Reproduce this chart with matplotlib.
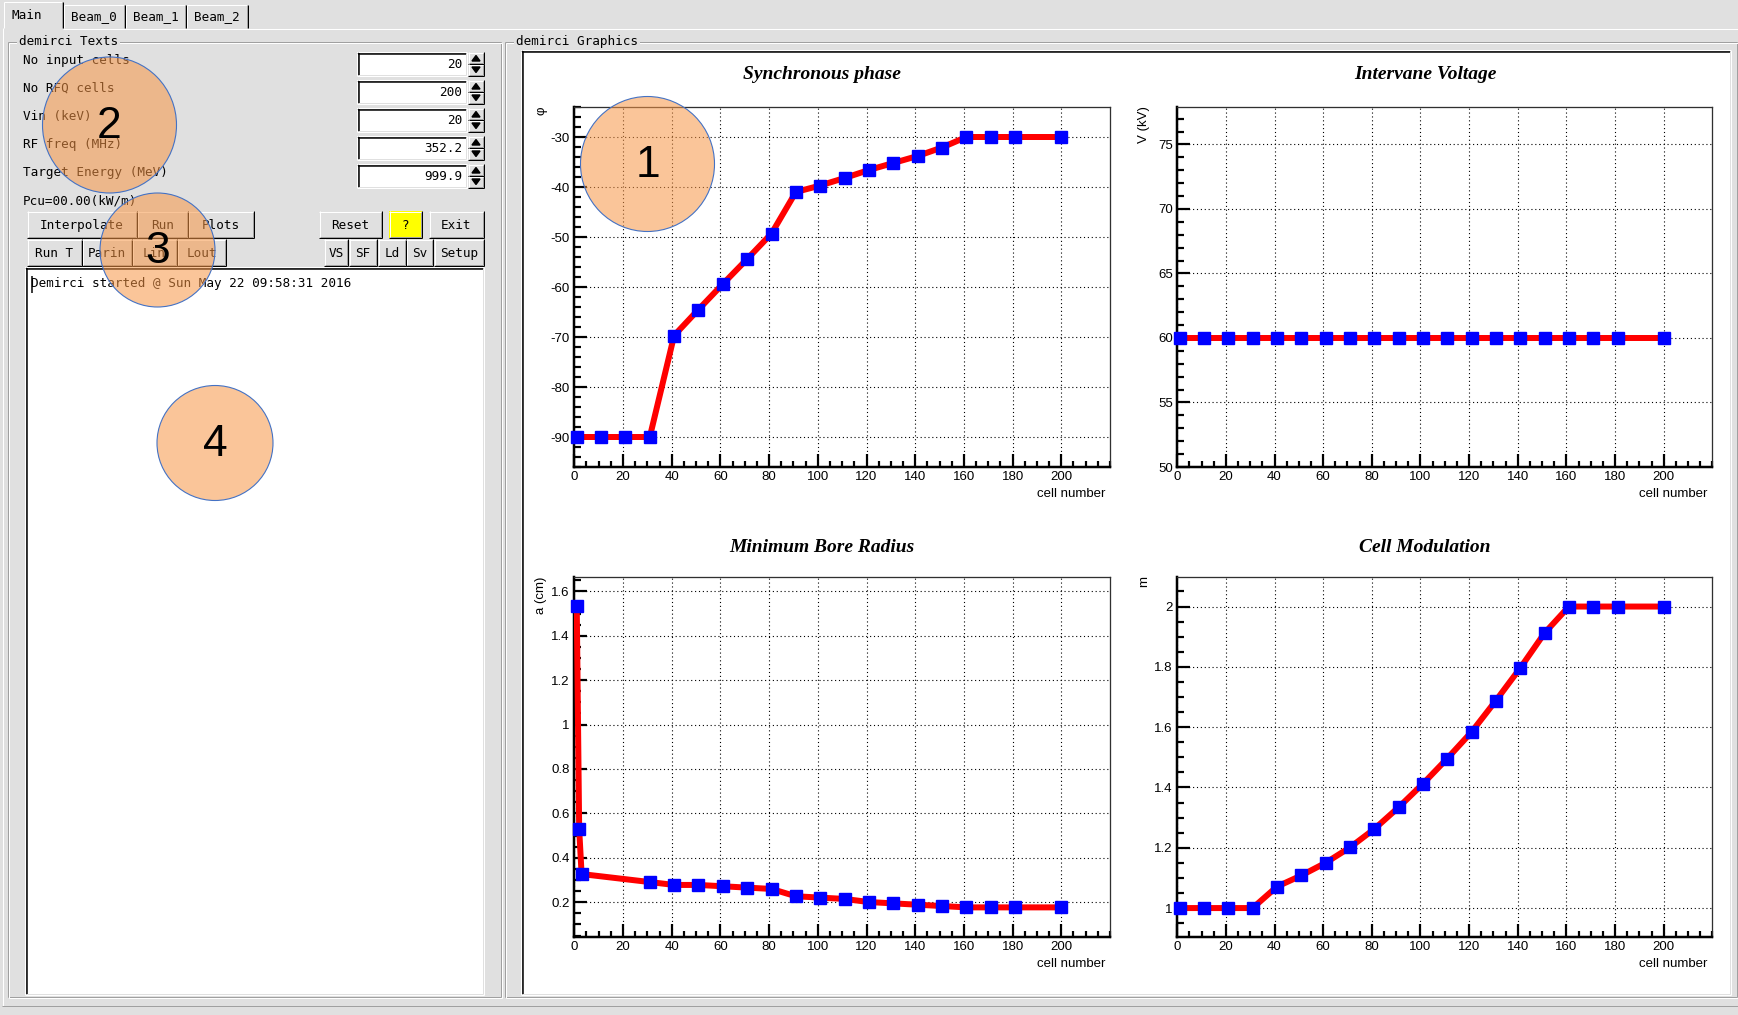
import matplotlib
matplotlib.use('Agg')
import matplotlib.pyplot as plt
from matplotlib.patches import Rectangle, Ellipse, Polygon
from matplotlib.ticker import FixedLocator, MultipleLocator, FormatStrFormatter

plt.rcParams['font.family'] = ['Liberation Sans', 'DejaVu Sans']
plt.rcParams['axes.unicode_minus'] = False

W, H = 1738, 1015

# cells at which the RFQ parameters are sampled
cells = [1, 11, 21, 31, 41, 51, 61, 71, 81, 91, 101, 111, 121, 131, 141, 151, 161, 171, 181, 200]
sync_phase = [-90, -90, -90, -90, -69.7, -64.5, -59.4, -54.4, -49.3, -41.0,
              -39.7, -38.2, -36.6, -35.2, -33.8, -32.1, -30, -30, -30, -30]
voltage = [60, 60, 60, 60, 60, 60, 60, 60, 60, 60,
           60, 60, 60, 60, 60, 60, 60, 60, 60, 60]
bore_cells = [1, 2, 3, 31, 41, 51, 61, 71, 81, 91, 101, 111, 121, 131, 141, 151, 161, 171, 181, 200]
bore_radius = [1.534, 0.530, 0.327, 0.291, 0.278, 0.278, 0.272, 0.266, 0.260, 0.227,
               0.221, 0.215, 0.201, 0.195, 0.189, 0.183, 0.177, 0.177, 0.177, 0.177]
modulation = [1, 1, 1, 1, 1.071, 1.108, 1.150, 1.201, 1.262, 1.334,
              1.412, 1.496, 1.584, 1.688, 1.796, 1.912, 2, 2, 2, 2]

x_ticks = [0, 20, 40, 60, 80, 100, 120, 140, 160, 180, 200]
sync_ticks = [-90, -80, -70, -60, -50, -40, -30]
volt_ticks = [50, 55, 60, 65, 70, 75]
bore_ticks = [0.2, 0.4, 0.6, 0.8, 1.0, 1.2, 1.4, 1.6]
mod_ticks = [1.0, 1.2, 1.4, 1.6, 1.8, 2.0]

# GUI contents
tab_names = ['Main', 'Beam_0', 'Beam_1', 'Beam_2']
input_labels = ['No input cells', 'No RFQ cells', 'Vin (keV)', 'RF freq (MHz)', 'Target Energy (MeV)']
input_values = ['20', '200', '20', '352.2', '999.9']
pcu_text = 'Pcu=00.00(kW/m)'
log_text = 'Demirci started @ Sun May 22 09:58:31 2016'
row1 = [('Interpolate', 27, 137), ('Run', 137, 188), ('Plots', 188, 254),
        ('Reset', 319, 382), ('?', 389, 422), ('Exit', 429, 484)]
row2 = [('Run T', 27, 82), ('Parin', 82, 132), ('Lin', 132, 177), ('Lout', 177, 226),
        ('VS', 324, 348), ('SF', 349, 377), ('Ld', 378, 406), ('Sv', 406, 433), ('Setup', 434, 484)]

BG = '#e0e0e0'
GRAY = '#a0a0a0'
PX = 72 / 100.0
MONO = 'DejaVu Sans Mono'
GUI_FS = 9.1

fig = plt.figure(figsize=(W / 100, H / 100), dpi=100, facecolor=BG)
bg = fig.add_axes([0, 0, 1, 1], zorder=0)
bg.set_xlim(0, W)
bg.set_ylim(H, 0)
bg.axis('off')
bg.set_facecolor(BG)


def hline(x0, x1, y, c, lw=1):
    bg.plot([x0, x1], [y, y], color=c, lw=lw * PX, solid_capstyle='butt')


def vline(x, y0, y1, c, lw=1):
    bg.plot([x, x], [y0, y1], color=c, lw=lw * PX, solid_capstyle='butt')


def raised(x0, y0, x1, y1, face=BG):
    bg.add_patch(Rectangle((x0, y0), x1 - x0, y1 - y0, facecolor=face, edgecolor='none'))
    hline(x0, x1, y0 + 0.5, 'white')
    vline(x0 + 0.5, y0, y1, 'white')
    hline(x0 + 1, x1 - 1, y1 - 1.5, GRAY)
    vline(x1 - 1.5, y0 + 1, y1 - 1, GRAY)
    hline(x0, x1, y1 - 0.5, 'black')
    vline(x1 - 0.5, y0, y1, 'black')


def sunken(x0, y0, x1, y1, face='white'):
    bg.add_patch(Rectangle((x0, y0), x1 - x0, y1 - y0, facecolor=face, edgecolor='none'))
    hline(x0, x1, y0 + 0.5, GRAY)
    vline(x0 + 0.5, y0, y1, GRAY)
    hline(x0 + 1, x1 - 1, y0 + 1.5, 'black', 1.5)
    vline(x0 + 1.5, y0 + 1, y1 - 1, 'black', 1.5)
    hline(x0, x1, y1 - 0.5, 'white')
    vline(x1 - 0.5, y0, y1, 'white')
    hline(x0 + 1, x1 - 1, y1 - 1.5, BG)
    vline(x1 - 1.5, y0 + 1, y1 - 1, BG)


def etched(x0, y0, x1, y1, label, lx):
    for off, c in ((0.5, GRAY), (1.5, 'white')):
        hline(x0 + off, x1 + off, y0 + off, c)
        hline(x0 + off, x1 + off, y1 + off, c)
        vline(x0 + off, y0 + off, y1 + off, c)
        vline(x1 + off, y0 + off, y1 + off, c)
    bg.text(lx, y0, label, ha='left', va='center', family=MONO, fontsize=GUI_FS,
            bbox=dict(facecolor=BG, edgecolor='none', pad=1.5))


# tab bar
hline(63, W, 28.5, 'white')
vline(2.5, 28, 1006, 'white')
hline(2, W, 1005.5, GRAY)
tab_edges = [3, 63, 125, 186, 248]
for i, name in enumerate(tab_names):
    x0, x1 = tab_edges[i], tab_edges[i + 1]
    top = 1 if i == 0 else 4
    hline(x0 + 1, x1 - 1, top + 0.5, 'white')
    vline(x0 + 0.5, top + 1, 28, 'white')
    vline(x1 - 1.5, top + 1, 28, GRAY)
    vline(x1 - 0.5, top + 1, 28, 'black')
    bg.text(x0 + 8, 15 if i == 0 else 17, name, ha='left', va='center',
            family=MONO, fontsize=GUI_FS)

etched(7, 41, 500, 996, 'demirci Texts', 19)
etched(504, 41, 1736, 996, 'demirci Graphics', 516)

# input rows
for i, (lab, val) in enumerate(zip(input_labels, input_values)):
    yc = 60 + 28.2 * i
    bg.text(23, yc, lab, ha='left', va='center', family=MONO, fontsize=GUI_FS)
    y0 = 52 + 28 * i
    sunken(357, y0, 467, y0 + 24)
    bg.text(462, y0 + 12, val, ha='right', va='center', family=MONO, fontsize=GUI_FS)
    raised(468, y0, 484, y0 + 12)
    raised(468, y0 + 12, 484, y0 + 24)
    bg.add_patch(Polygon([[472, y0 + 9], [480, y0 + 9], [476, y0 + 3.5]], color='black'))
    bg.add_patch(Polygon([[472, y0 + 15], [480, y0 + 15], [476, y0 + 20.5]], color='black'))
bg.text(23, 201, pcu_text, ha='left', va='center', family=MONO, fontsize=GUI_FS)

for lab, x0, x1 in row1:
    raised(x0, 211, x1, 238, face='#ffff00' if lab == '?' else BG)
    bg.text((x0 + x1) / 2, 225, lab, ha='center', va='center', family=MONO, fontsize=GUI_FS)
for lab, x0, x1 in row2:
    raised(x0, 239, x1, 266)
    bg.text((x0 + x1) / 2, 253, lab, ha='center', va='center', family=MONO, fontsize=GUI_FS)

# log window
sunken(25, 267, 484, 995)
bg.text(31, 284, log_text, ha='left', va='center', family=MONO, fontsize=GUI_FS)
vline(31.5, 276, 293, 'black', 1.5)

# graphics canvas
sunken(521, 50, 1731, 995)


def make_plot(box, title_y, x, y, ylim, yticks, yminor, title, ylabel):
    x0, y0, x1, y1 = box
    ax = fig.add_axes([x0 / W, 1 - y1 / H, (x1 - x0) / W, (y1 - y0) / H], zorder=1)
    ax.set_facecolor('white')
    ax.plot(x, y, color='red', lw=6 * PX, zorder=3)
    ax.plot(x, y, ls='none', marker='s', ms=11.5 * PX, color='blue', zorder=4, clip_on=False)
    ax.set_xlim(0, 220)
    ax.set_ylim(*ylim)
    ax.xaxis.set_major_locator(FixedLocator(x_ticks))
    ax.xaxis.set_minor_locator(MultipleLocator(5))
    ax.yaxis.set_major_locator(FixedLocator(yticks))
    ax.yaxis.set_minor_locator(MultipleLocator(yminor))
    ax.xaxis.set_major_formatter(FormatStrFormatter('%g'))
    ax.yaxis.set_major_formatter(FormatStrFormatter('%g'))
    ax.grid(which='major', color='black', ls=(0, (1, 2.5)), lw=0.8)
    ax.tick_params(which='both', direction='in', top=False, right=False,
                   width=2.2 * PX, color='black', labelsize=9.5)
    ax.tick_params(which='major', length=13 * PX, pad=3.2)
    ax.tick_params(which='minor', length=6.5 * PX)
    for side in ('left', 'bottom'):
        ax.spines[side].set_linewidth(2.5 * PX)
        ax.spines[side].set_color('black')
    for side in ('top', 'right'):
        ax.spines[side].set_linewidth(1.3 * PX)
        ax.spines[side].set_color('#303030')
    # pad titles are centred on the pad, which sits left of the frame centre
    bg.text(x0 + 248, title_y, title, ha='center', va='center',
            family='Liberation Serif', style='italic', weight='bold', fontsize=14)
    bg.text(x1 - 5, y1 + 27, 'cell number', ha='right', va='center', fontsize=9.5)
    bg.text(x0 - 33, y0 - 1, ylabel, ha='center', va='top', rotation=90, fontsize=9.5)
    return ax


make_plot((574.3, 107, 1110, 467), 74.5, cells, sync_phase, (-96, -24), sync_ticks, 2,
          'Synchronous phase', 'φ')
make_plot((1177.2, 107, 1712.4, 467), 74.5, cells, voltage, (50, 77.9), volt_ticks, 1,
          'Intervane Voltage', 'V (kV)')
make_plot((574.3, 577.3, 1110, 936.7), 547.5, bore_cells, bore_radius, (0.045, 1.663), bore_ticks, 0.05,
          'Minimum Bore Radius', 'a (cm)')
make_plot((1177.2, 577.3, 1712.4, 936.7), 547.5, cells, modulation, (0.905, 2.097), mod_ticks, 0.05,
          'Cell Modulation', 'm')

# numbered callouts on top of everything
top = fig.add_axes([0, 0, 1, 1], zorder=10)
top.set_xlim(0, W)
top.set_ylim(H, 0)
top.axis('off')
top.patch.set_alpha(0)
callouts = [('1', 647.5, 164, 134, 135), ('2', 109.5, 125, 134, 136),
            ('3', 157.5, 250, 115, 114), ('4', 215, 443, 116, 115)]
for num, cx, cy, w, h in callouts:
    top.add_patch(Ellipse((cx, cy), w, h, facecolor='#f79646', alpha=0.55, edgecolor='none'))
    top.add_patch(Ellipse((cx, cy), w, h, facecolor='none', edgecolor='#4472c4', lw=0.8))
    top.text(cx, cy + 1, num, ha='center', va='center', fontsize=32, color='black')

fig.savefig('out.png', dpi=100, facecolor=BG)
